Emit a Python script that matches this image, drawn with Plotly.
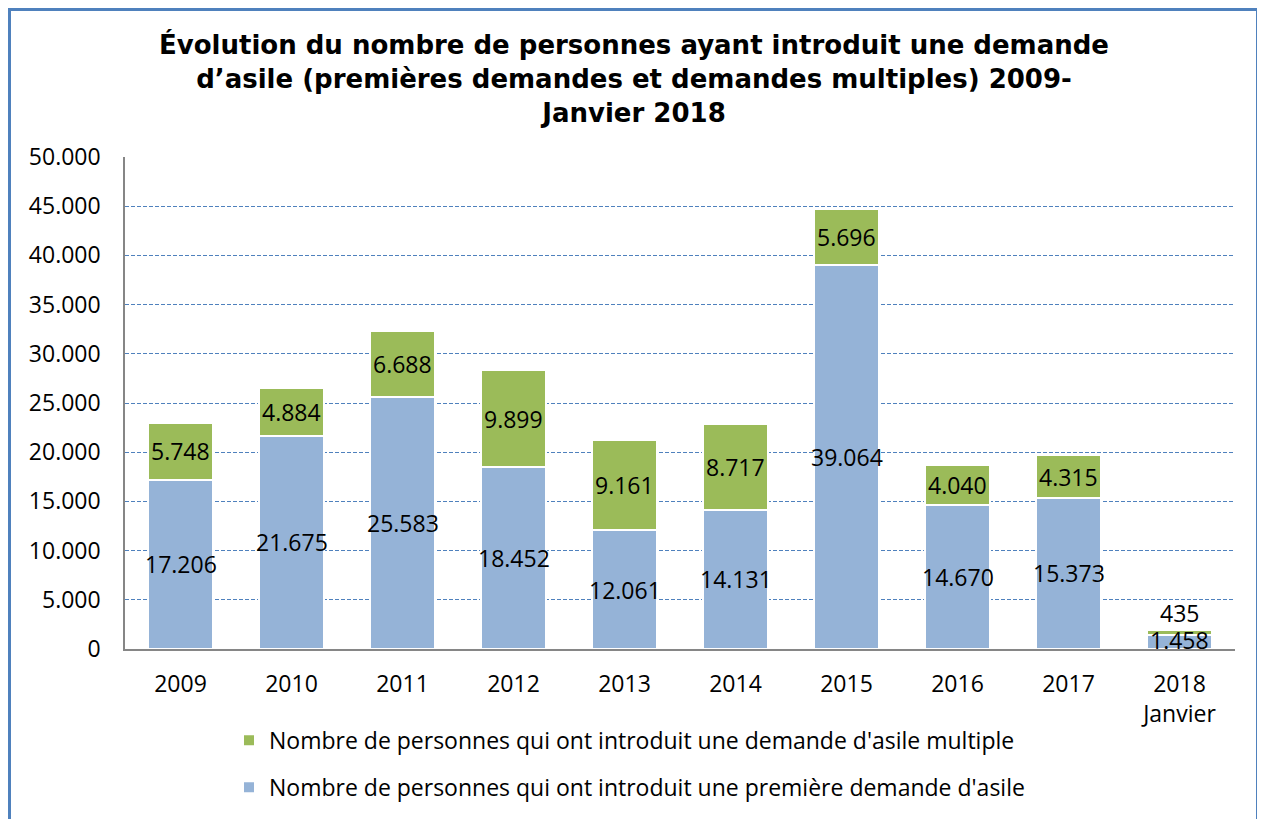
import plotly.graph_objects as go

categories = ["2009", "2010", "2011", "2012", "2013", "2014", "2015", "2016", "2017", "2018<br>Janvier"]
premieres = [17206, 21675, 25583, 18452, 12061, 14131, 39064, 14670, 15373, 1458]
multiples = [5748, 4884, 6688, 9899, 9161, 8717, 5696, 4040, 4315, 435]
y_ticks = [0, 5000, 10000, 15000, 20000, 25000, 30000, 35000, 40000, 45000, 50000]

name_multi = "Nombre de personnes qui ont introduit une demande d'asile multiple"
name_prem = "Nombre de personnes qui ont introduit une première demande d'asile"

blue = "#95B3D7"
green = "#9BBB59"
font_body = "Open Sans"
fs = 23

# the page body adds an 8px offset; figure coords = screen coords - 8
W, H = 1257, 811
L, T, R, B = 117, 149, 30, 170
PW, PH = W - L - R, H - T - B


def fmt(v):
    return f"{v:,}".replace(",", ".")


fig = go.Figure()
fig.add_trace(go.Bar(x=categories, y=premieres, name=name_prem,
                     marker=dict(color=blue, line=dict(color="white", width=2)),
                     width=0.58, legendrank=2, legendgroup="b", hoverinfo="y"))
fig.add_trace(go.Bar(x=categories, y=multiples, name=name_multi,
                     marker=dict(color=green, line=dict(color="white", width=2)),
                     width=0.58, legendrank=1, legendgroup="g", hoverinfo="y"))

annotations = []
for i, (p, m) in enumerate(zip(premieres, multiples)):
    annotations.append(dict(x=i, y=p / 2, text=fmt(p), showarrow=False, yshift=2 if p < 3000 else 0,
                            font=dict(family=font_body, size=fs, color="black")))
    if m < 1500:
        annotations.append(dict(x=i, y=p + m, text=fmt(m), showarrow=False, yanchor="bottom", yshift=-1,
                                font=dict(family=font_body, size=fs, color="black")))
    else:
        annotations.append(dict(x=i, y=p + m / 2, text=fmt(m), showarrow=False,
                                font=dict(family=font_body, size=fs, color="black")))

fig.update_layout(
    barmode="stack",
    width=W, height=H,
    margin=dict(l=L, r=R, t=T, b=B, autoexpand=False),
    paper_bgcolor="white", plot_bgcolor="white",
    title=dict(
        text="Évolution du nombre de personnes ayant introduit une demande<br>d’asile (premières demandes et demandes multiples) 2009-<br>Janvier 2018",
        x=(634 - 8) / W, xref="container", xanchor="center",
        y=1 - 46 / H, yref="container", yanchor="top",
        font=dict(family="DejaVu Sans", size=26, color="black", weight="bold"),
    ),
    font=dict(family=font_body, size=fs, color="black"),
    xaxis=dict(type="category", categoryorder="array", categoryarray=categories,
               range=[-0.5, len(categories) - 0.5],
               showline=True, linecolor="#868686", linewidth=1.5, ticks="",
               showgrid=False, automargin=False, ticklabelstandoff=14,
               tickfont=dict(family=font_body, size=fs, color="black")),
    yaxis=dict(range=[0, 50000], tickvals=y_ticks, ticktext=[fmt(v) for v in y_ticks],
               showline=True, linecolor="#868686", linewidth=1.5, automargin=False,
               showgrid=True, gridcolor="#4F81BD", gridwidth=1, griddash="4px,2px",
               zeroline=False, ticks="", ticklen=0, ticklabelstandoff=18,
               tickfont=dict(family=font_body, size=fs, color="black")),
    legend=dict(orientation="v", x=(221 - L) / PW, xanchor="left", y=-0.142, yanchor="top",
                font=dict(family=font_body, size=fs, color="black"), tracegroupgap=14,
                itemwidth=30, traceorder="grouped"),
    annotations=annotations,
    shapes=[dict(type="rect", xref="paper", yref="paper",
                 x0=(1 - L) / PW, x1=(1250 - L) / PW,
                 y0=(641 - 840) / PH, y1=(641 - 1) / PH,
                 line=dict(color="#4F81BD", width=4), fillcolor="rgba(0,0,0,0)", layer="below")],
    showlegend=True,
)

fig.write_html("out.html")
